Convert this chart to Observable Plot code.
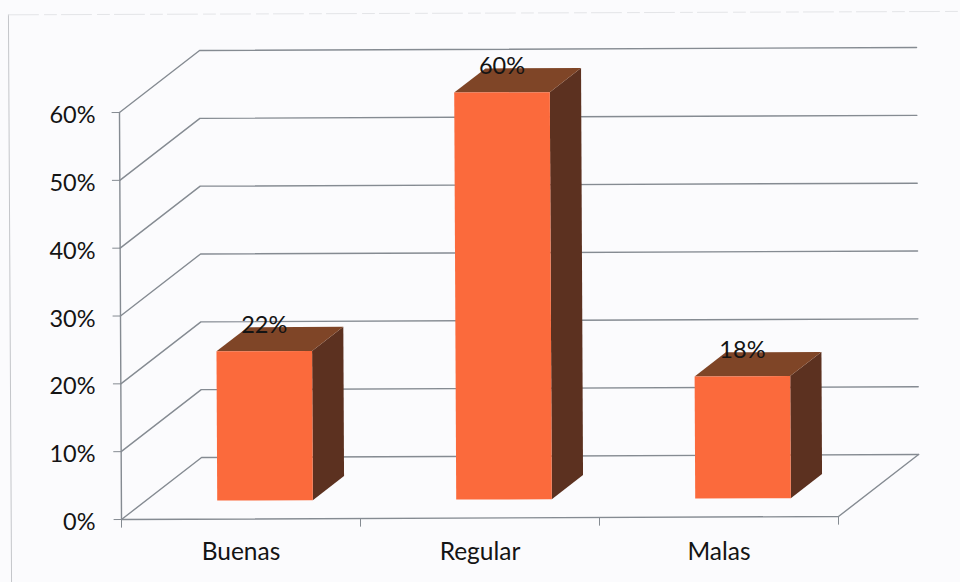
<!DOCTYPE html>
<html>
<head>
<meta charset="utf-8">
<script src="https://cdn.jsdelivr.net/npm/d3@7"></script>
<script src="https://cdn.jsdelivr.net/npm/@observablehq/plot@0.6"></script>
<style>
html,body{margin:0;padding:0;background:#fbfbfd;}
svg{display:block;}
</style>
</head>
<body>
<div id="chart"></div>
<script>
// Chart values
const categories = ["Buenas", "Regular", "Malas"];
const values = [22, 60, 18];
const gridTicks = [0, 10, 20, 30, 40, 50, 60];
const categoryEdges = [0, 1, 2, 3];

// Oblique projection in data units (category, percent, depth 0..1)
const depthX = 0.335, depthY = 9.14;   // how far the back wall sits from the front plane
const tiltY = 0.147, tiltX = 0.00014;  // the scanned page is very slightly rotated
const barHalf = 0.2, barZ0 = 0.3, barZ1 = 0.69;
const px = (c, v, z = 0) => c + z * depthX - v * tiltX;
const py = (c, v, z = 0) => v + z * depthY + c * tiltY;
const P = (group, c, v, z = 0) => ({group, x: px(c, v, z), y: py(c, v, z)});

// Wall and floor lines
const gridLines = gridTicks.flatMap(v => [
  P(v, 0, v, 0), P(v, 0, v, 1), P(v, 3, v, 1)
]);
const floorEdge = [P("f", 0, 0, 0), P("f", 3, 0, 0), P("f", 3, 0, 1)];
const yAxisLine = [P("a", 0, 0), P("a", 0, 60)];

const yTickMarks = gridTicks.map(v => ({x1: px(-0.033, v), x2: px(0, v), y1: py(-0.033, v), y2: py(0, v)}));
const xTickMarks = categoryEdges.map(c => ({x1: px(c, 0), x2: px(c, 0), y1: py(c, 0), y2: py(c, 0) - 1.2}));

// Bar faces
const faces = (pick) => categories.flatMap((name, i) => pick(name, i + 0.5, values[i]));
const frontFaces = faces((n, c, v) => [
  P(n, c - barHalf, 0, barZ0), P(n, c + barHalf, 0, barZ0), P(n, c + barHalf, v, barZ0), P(n, c - barHalf, v, barZ0)
]);
const sideFaces = faces((n, c, v) => [
  P(n, c + barHalf, 0, barZ0), P(n, c + barHalf, 0, barZ1), P(n, c + barHalf, v, barZ1), P(n, c + barHalf, v, barZ0)
]);
const topFaces = faces((n, c, v) => [
  P(n, c - barHalf, v, barZ0), P(n, c + barHalf, v, barZ0), P(n, c + barHalf, v, barZ1), P(n, c - barHalf, v, barZ1)
]);
const barLabels = categories.map((n, i) => ({
  x: px(i + 0.5, values[i], barZ0), y: py(i + 0.5, values[i], barZ0), text: values[i] + "%"
}));

// Faint outline of the pasted chart object
const borderLeft = [{x: -0.473, y: 74.4}, {x: -0.46, y: -9.3}];
const borderTop = [{x: -0.473, y: 74.4}, {x: 3.5, y: 74.9}];

const gridColor = "#858b92";
const font = "Lato, Carlito, 'Open Sans', sans-serif";

const chart = Plot.plot({
  width: 960,
  height: 582,
  marginLeft: 120,
  marginBottom: 63,
  marginTop: 0,
  marginRight: 0,
  style: {background: "#fbfbfd", fontFamily: font, color: "#141414"},
  x: {domain: [0, 3], range: [121, 838]},
  y: {domain: [0, 60], range: [519, 112]},
  marks: [
    Plot.line(borderLeft, {x: "x", y: "y", stroke: "#c4c6ca", strokeWidth: 1}),
    Plot.line(borderTop, {x: "x", y: "y", stroke: "#e4e5e8", strokeWidth: 1, strokeDasharray: "30 6 12 5"}),
    Plot.line(gridLines, {x: "x", y: "y", z: "group", stroke: gridColor, strokeWidth: 1.4}),
    Plot.line(floorEdge, {x: "x", y: "y", z: "group", stroke: gridColor, strokeWidth: 1.4}),
    Plot.line(yAxisLine, {x: "x", y: "y", z: "group", stroke: gridColor, strokeWidth: 1.4}),
    Plot.link(yTickMarks, {x1: "x1", x2: "x2", y1: "y1", y2: "y2", stroke: gridColor, strokeWidth: 1}),
    Plot.link(xTickMarks, {x1: "x1", x2: "x2", y1: "y1", y2: "y2", stroke: gridColor, strokeWidth: 1}),
    Plot.line(sideFaces, {x: "x", y: "y", z: "group", fill: "#5c3120", stroke: "none"}),
    Plot.line(topFaces, {x: "x", y: "y", z: "group", fill: "#7f4527", stroke: "none"}),
    Plot.line(frontFaces, {x: "x", y: "y", z: "group", fill: "#fb6a3c", stroke: "none"}),
    Plot.axisY(gridTicks, {
      anchor: "left", label: null, tickSize: 0, tickPadding: 25, dy: 3,
      tickFormat: d => d + "%", fontSize: 23.5, stroke: null
    }),
    Plot.axisX(categories.map((_, i) => i + 0.5), {
      anchor: "bottom", label: null, tickSize: 0, tickPadding: 23,
      tickFormat: d => categories[Math.floor(d)], fontSize: 24.5, stroke: null
    }),
    Plot.text(barLabels, {x: "x", y: "y", text: "text", dy: -26, fontSize: 23.5, fill: "#141414"})
  ]
});
document.getElementById("chart").appendChild(chart);
</script>
</body>
</html>
